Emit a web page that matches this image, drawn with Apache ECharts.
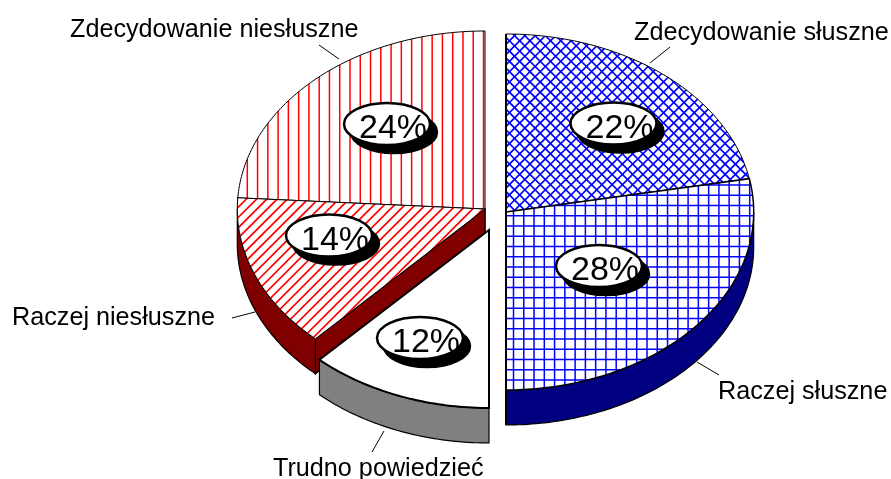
<!DOCTYPE html>
<html><head><meta charset="utf-8">
<style>html,body{margin:0;padding:0;background:#fff}#c{width:891px;height:479px}</style>
<script src="https://cdn.jsdelivr.net/npm/echarts@6/dist/echarts.min.js"></script>
</head><body><div id="c"></div>
<script>
const categories = ['Zdecydowanie słuszne','Raczej słuszne','Trudno powiedzieć','Raczej niesłuszne','Zdecydowanie niesłuszne'];
const shares = [22,28,12,14,24];
const shareLabels = ['22%','28%','12%','14%','24%'];

const RX = 247.7, RY = 178, DEPTH = 35, TILE = 10.27;
const FONT = 'Liberation Sans, Arial, sans-serif';
const sliceStyle = [
  {cx:506,cy:212,hatch:'cross',ink:'#0000ff',wall:'#000080',line:1,order:0},
  {cx:506,cy:212,hatch:'grid', ink:'#0000ff',wall:'#000080',line:1.5,order:1},
  {cx:489,cy:230,hatch:'none', ink:'#000',   wall:'#808080',line:2,order:4},
  {cx:485,cy:209,hatch:'slash',ink:'#ff0000',wall:'#800000',line:1,order:3},
  {cx:485,cy:209,hatch:'bars', ink:'#ff0000',wall:'#800000',line:1,order:2}
];
const calloutAt = [[613.5,123.5],[599,266],[420,338],[329,235.5],[387,124]];
const nameAt = [[634,33],[718,392],[273,469],[12,318],[70,30]];
const leaders = [[670,47,650,63],[719,375,697,362],[372,452,384,431],[232,318,255,312],[319,45,339,59]];

const TOTAL = shares.reduce((a,b)=>a+b,0);
function rim(s,deg,dy){const t=deg*Math.PI/180;return [s.cx+RX*Math.sin(t),s.cy-RY*Math.cos(t)+(dy||0)];}
function arc(s,a,b,dy){const p=[];const n=Math.max(2,Math.ceil(Math.abs(b-a)));for(let i=0;i<=n;i++)p.push(rim(s,a+(b-a)*i/n,dy));return p;}

function hatchLines(s,box,z){
  const [x0,y0,x1,y1]=box, out=[];
  const add=(a,b,c,d,w)=>out.push({type:'line',silent:true,z2:z,shape:{x1:a,y1:b,x2:c,y2:d},style:{stroke:s.ink,lineWidth:w,fill:null}});
  const h=y1-y0;
  if(s.hatch==='bars'||s.hatch==='grid'){
    const phase=s.hatch==='bars'?247.3:513.5;
    for(let x=phase-TILE*Math.ceil((phase-x0)/TILE);x<=x1;x+=TILE)add(x,y0,x,y1,1.5);
  }
  if(s.hatch==='grid'){
    const phase=215.7;
    for(let y=phase-TILE*Math.ceil((phase-y0)/TILE);y<=y1;y+=TILE)add(x0,y,x1,y,1.5);
  }
  if(s.hatch==='slash'||s.hatch==='cross'){
    for(let x=x0-h-TILE*2;x<=x1+TILE;x+=TILE)add(x,y1,x+h,y0,1.7);
  }
  if(s.hatch==='cross'){
    for(let x=x0-TILE*2;x<=x1+h+TILE;x+=TILE)add(x-h,y0,x,y1,1.7);
  }
  return out;
}

function renderSlice(params,api){
  const i=params.dataIndex, s=sliceStyle[i], v=api.value(0);
  const a=shares.slice(0,i).reduce((p,c)=>p+c,0)/TOTAL*360, b=a+v/TOTAL*360;
  const z=s.order*10, apex=[s.cx,s.cy], kids=[];
  const wallStyle={fill:s.wall,stroke:'#000',lineWidth:1.2};
  if(a>180&&a<360){
    const r=rim(s,a);
    kids.push({type:'polygon',z2:z,shape:{points:[apex,r,[r[0],r[1]+DEPTH],[s.cx,s.cy+DEPTH]]},style:wallStyle});
  }
  const w0=Math.max(a,90), w1=Math.min(b,270);
  if(w1>w0){
    kids.push({type:'polygon',z2:z+1,shape:{points:arc(s,w0,w1,0).concat(arc(s,w1,w0,DEPTH))},style:wallStyle});
  }
  const top=[apex].concat(arc(s,a,b,0));
  kids.push({type:'polygon',z2:z+2,shape:{points:top},style:{fill:'#fff',stroke:null}});
  if(s.hatch!=='none'){
    const xs=top.map(p=>p[0]), ys=top.map(p=>p[1]);
    const box=[Math.min(...xs),Math.min(...ys),Math.max(...xs),Math.max(...ys)];
    kids.push({type:'group',silent:true,clipPath:{type:'polygon',shape:{points:top}},children:hatchLines(s,box,z+3)});
  }
  kids.push({type:'polygon',z2:z+4,shape:{points:top},style:{fill:null,stroke:'#000',lineWidth:s.line,lineJoin:'miter'}});
  if(s.wall==='#000080'){
    const y2=a<1?s.cy-RY:s.cy+RY+DEPTH;
    kids.push({type:'line',z2:z+5,shape:{x1:s.cx,y1:s.cy,x2:s.cx,y2:y2},style:{stroke:'#000',lineWidth:2}});
  }
  return {type:'group',children:kids};
}

function renderNote(params,api){
  const i=params.dataIndex, [ex,ey]=calloutAt[i], [nx,ny]=nameAt[i], l=leaders[i];
  return {type:'group',children:[
    {type:'ellipse',z2:100,shape:{cx:ex+7,cy:ey+8,rx:43,ry:21},style:{fill:'#000',stroke:'#000',lineWidth:2.5}},
    {type:'ellipse',z2:101,shape:{cx:ex,cy:ey,rx:43,ry:21},style:{fill:'#fff',stroke:'#000',lineWidth:2.5}},
    {type:'text',z2:102,style:{text:shareLabels[i],x:ex+6,y:ey+5,font:'34px '+FONT,fill:'#000',align:'center',verticalAlign:'middle'}},
    {type:'line',z2:103,shape:{x1:l[0],y1:l[1],x2:l[2],y2:l[3]},style:{stroke:'#000',lineWidth:1}},
    {type:'text',z2:104,style:{text:categories[i],x:nx,y:ny,font:'25.2px '+FONT,fill:'#000',align:'left',verticalAlign:'middle'}}
  ]};
}

const chart=echarts.init(document.getElementById('c'),null,{renderer:'canvas'});
chart.setOption({
  animation:false,
  backgroundColor:'#fff',
  series:[
    {type:'custom',coordinateSystem:'none',silent:true,renderItem:renderSlice,data:shares.map(v=>[v])},
    {type:'custom',coordinateSystem:'none',silent:true,renderItem:renderNote,data:shares.map(v=>[v])}
  ]
});
</script></body></html>
